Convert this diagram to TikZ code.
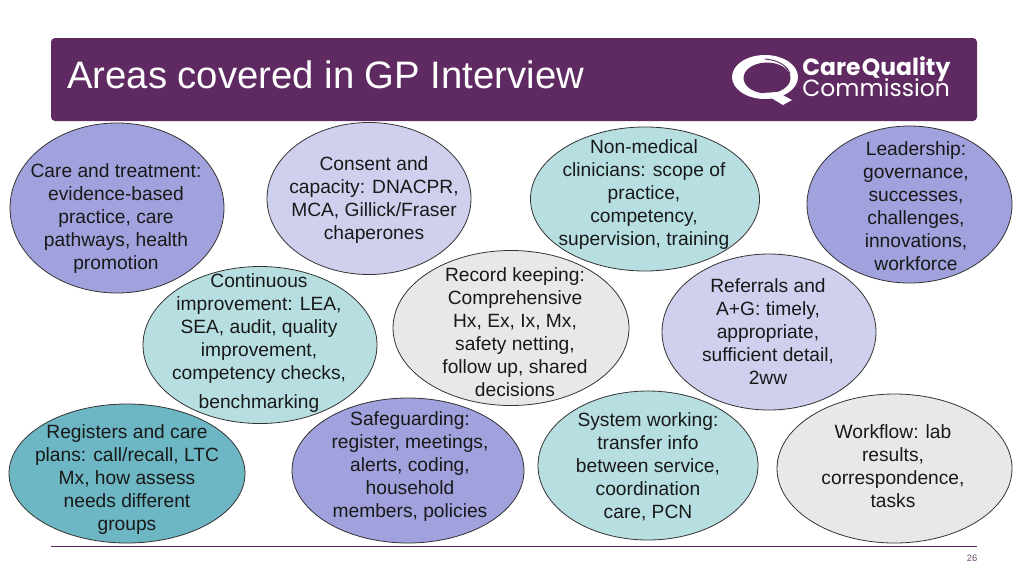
\documentclass[tikz,border=0pt]{standalone}
\usepackage{fontspec}
\setmainfont{Liberation Sans}
\newfontfamily\logofont{Poppins}
\usetikzlibrary{shapes.geometric, positioning}
\definecolor{cqcpurple}{HTML}{5F2A62}
\definecolor{bubbleblue}{HTML}{A1A1DD}
\definecolor{bubblelilac}{HTML}{CFD0EE}
\definecolor{bubbleaqua}{HTML}{B7DFE2}
\definecolor{bubblegrey}{HTML}{E8E8E8}
\definecolor{bubbleteal}{HTML}{6DB7C4}
\tikzset{
    bubble/.style 2 args={ellipse, draw=black!80, line width=0.6pt, inner sep=0pt,
        minimum width=#1*0.75pt, minimum height=#2*0.75pt},
    bubbletext/.style={align=center, inner sep=0pt, text=black!90,
        font=\fontsize{14.4}{17.25}\selectfont},
}

\begin{document}
\begin{tikzpicture}[x=0.75pt, y=-0.75pt]
    \useasboundingbox (0,0) rectangle (1024,576);

    % Header
    \node[fill=cqcpurple, rounded corners=3pt, inner sep=0pt, minimum width=926*0.75pt, minimum height=83*0.75pt] (header) at (514,79.5) {};
    \node[anchor=west, inner sep=0pt, text=white, font=\fontsize{28.7}{32}\selectfont] (title) at (67,75) {Areas covered in GP Interview};

    % Logo
    \node[ellipse, fill=white, inner sep=0pt, minimum width=66*0.75pt, minimum height=44*0.75pt] (logoring) at (765,77) {};
    \node[ellipse, fill=cqcpurple, inner sep=0pt, minimum width=47*0.75pt, minimum height=31*0.75pt] (logohole) at (767,78) {};
    \fill[white] (763,93) -- (777,92) -- (792,100) -- (783,105) -- cycle;
    \draw[cqcpurple, line width=0.7pt] (765,59) .. controls (778,60) and (788,66) .. (790,74);
    \node[anchor=west, inner sep=0pt, text=white, font=\logofont\bfseries\fontsize{17.6}{19}\selectfont] (logotop) at (802,69) {Care\hspace{1pt}Quality};
    \node[anchor=west, inner sep=0pt, text=white, font=\logofont\fontsize{17.6}{19}\selectfont] (logobottom) at (802,88) {Commission};

    % Bubbles
    \node[bubble={214}{170}, fill=bubbleblue] (care) at (117,208) {};
    \node[bubble={204}{152}, fill=bubblelilac] (consent) at (369,198.5) {};
    \node[bubble={229}{144}, fill=bubbleaqua] (nonmedical) at (645,199) {};
    \node[bubble={205}{157}, fill=bubbleblue] (leadership) at (909.5,204.5) {};
    \node[bubble={234}{157}, fill=bubbleaqua] (continuous) at (260,345) {};
    \node[bubble={236}{155}, fill=bubblegrey] (record) at (511,328) {};
    \node[bubble={214}{156}, fill=bubblelilac] (referrals) at (769,332) {};
    \node[bubble={236}{139}, fill=bubbleteal] (registers) at (127,473.5) {};
    \node[bubble={232}{145}, fill=bubbleblue] (safeguarding) at (408,470.5) {};
    \node[bubble={220}{149}, fill=bubbleaqua] (system) at (648,465.5) {};
    \node[bubble={235}{149}, fill=bubblegrey] (workflow) at (894.5,468.5) {};

    % Bubble texts
    \node[bubbletext] (caretext) at (116,219) {Care and treatment:\\evidence-based\\practice, care\\pathways, health\\promotion};
    \node[bubbletext] (consenttext) at (374,200) {Consent and\\capacity: DNACPR,\\MCA, Gillick/Fraser\\chaperones};
    \node[bubbletext] (nonmedicaltext) at (644,195) {Non-medical\\clinicians: scope of\\practice,\\competency,\\supervision, training};
    \node[bubbletext] (leadershiptext) at (916,206) {Leadership:\\governance,\\successes,\\challenges,\\innovations,\\workforce};
    \node[bubbletext] (continuoustext) at (259,343) {Continuous\\improvement: LEA,\\SEA, audit, quality\\improvement,\\competency checks,\\[5pt]benchmarking};
    \node[bubbletext] (recordtext) at (515,332) {Record keeping:\\Comprehensive\\Hx, Ex, Ix, Mx,\\safety netting,\\follow up, shared\\decisions};
    \node[bubbletext] (referralstext) at (768,332) {Referrals and\\A+G: timely,\\appropriate,\\sufficient detail,\\2ww};
    \node[bubbletext] (registerstext) at (127,480) {Registers and care\\plans: call/recall, LTC\\Mx, how assess\\needs different\\groups};
    \node[bubbletext] (safeguardingtext) at (410,467) {Safeguarding:\\register, meetings,\\alerts, coding,\\household\\members, policies};
    \node[bubbletext] (systemtext) at (648,467) {System working:\\transfer info\\between service,\\coordination\\care, PCN};
    \node[bubbletext] (workflowtext) at (893,466) {Workflow: lab\\results,\\correspondence,\\tasks};

    % Footer
    \coordinate (footleft) at (51,546);
    \coordinate (footright) at (977,546);
    \draw[cqcpurple, line width=0.7pt] (footleft) -- (footright);
    \node[inner sep=0pt, text=cqcpurple!70!gray, font=\fontsize{7}{8}\selectfont] (pagenum) at (972,558) {26};
\end{tikzpicture}
\end{document}
